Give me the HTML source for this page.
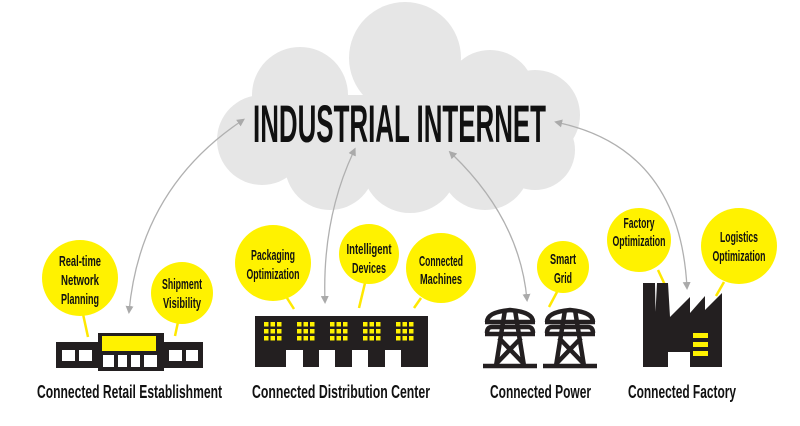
<!DOCTYPE html>
<html><head><meta charset="utf-8"><style>
html,body{margin:0;padding:0;background:#fff;}
svg{display:block;}
text{font-family:"Liberation Sans",sans-serif;font-weight:bold;fill:#111;}
</style></head><body>
<svg width="800" height="426" viewBox="0 0 800 426" xmlns="http://www.w3.org/2000/svg">
<defs>
<marker id="ah" markerWidth="8" markerHeight="8" refX="6" refY="4" orient="auto" markerUnits="userSpaceOnUse">
<path d="M0,0 L8,4 L0,8 Z" fill="#aaa"/></marker>
<marker id="as" markerWidth="8" markerHeight="8" refX="2" refY="4" orient="auto-start-reverse" markerUnits="userSpaceOnUse">
<path d="M0,0 L8,4 L0,8 Z" fill="#aaa"/></marker>
</defs>
<g fill="#e6e6e6">
<circle cx="405" cy="58" r="56"/>
<circle cx="300" cy="95" r="48"/>
<circle cx="490" cy="95" r="45"/>
<circle cx="535" cy="115" r="45"/>
<circle cx="262" cy="140" r="45"/>
<circle cx="330" cy="165" r="45"/>
<circle cx="410" cy="165" r="48"/>
<circle cx="485" cy="165" r="45"/>
<circle cx="535" cy="150" r="40"/>
<rect x="262" y="95" width="280" height="80"/>
</g>
<text x="253" y="142" font-size="53" textLength="293" lengthAdjust="spacingAndGlyphs">INDUSTRIAL INTERNET</text>
<g fill="none" stroke="#b0b0b0" stroke-width="1.3">
<path d="M240,122 Q140,190 129,312" marker-start="url(#as)" marker-end="url(#ah)"/>
<path d="M353,153 Q322,220 325,302" marker-start="url(#as)" marker-end="url(#ah)"/>
<path d="M453,155 Q520,220 527,300" marker-start="url(#as)" marker-end="url(#ah)"/>
<path d="M560,123 Q680,150 687,288" marker-start="url(#as)" marker-end="url(#ah)"/>
</g>
<g stroke="#ffe800" stroke-width="2.5">
<line x1="83" y1="314" x2="88" y2="337"/>
<line x1="178" y1="322" x2="175" y2="336"/>
<line x1="287" y1="298" x2="294" y2="309"/>
<line x1="365" y1="283" x2="359" y2="308"/>
<line x1="421" y1="298" x2="414" y2="308"/>
<line x1="557" y1="292" x2="549" y2="307"/>
<line x1="658" y1="270" x2="665" y2="285"/>
<line x1="724" y1="282" x2="716" y2="296"/>
</g>
<g fill="#fff200">
<circle cx="80" cy="278" r="38"/>
<circle cx="182" cy="293" r="31"/>
<circle cx="273" cy="263" r="38"/>
<circle cx="369" cy="254" r="30"/>
<circle cx="441" cy="268" r="35"/>
<circle cx="563" cy="267" r="26"/>
<circle cx="639" cy="240" r="32"/>
<circle cx="739" cy="246" r="38"/>
</g>
<g font-size="15" text-anchor="middle">
<text x="80" y="266" textLength="42" lengthAdjust="spacingAndGlyphs">Real-time</text>
<text x="80" y="285" textLength="38" lengthAdjust="spacingAndGlyphs">Network</text>
<text x="80" y="304" textLength="38" lengthAdjust="spacingAndGlyphs">Planning</text>
<text x="182" y="289" textLength="40" lengthAdjust="spacingAndGlyphs">Shipment</text>
<text x="182" y="308" textLength="38" lengthAdjust="spacingAndGlyphs">Visibility</text>
<text x="273" y="260" textLength="44" lengthAdjust="spacingAndGlyphs">Packaging</text>
<text x="273" y="279" textLength="53" lengthAdjust="spacingAndGlyphs">Optimization</text>
<text x="369" y="254" textLength="45" lengthAdjust="spacingAndGlyphs">Intelligent</text>
<text x="369" y="273" textLength="34" lengthAdjust="spacingAndGlyphs">Devices</text>
<text x="441" y="266" textLength="44" lengthAdjust="spacingAndGlyphs">Connected</text>
<text x="441" y="284" textLength="42" lengthAdjust="spacingAndGlyphs">Machines</text>
<text x="563" y="264" textLength="26" lengthAdjust="spacingAndGlyphs">Smart</text>
<text x="563" y="283" textLength="18" lengthAdjust="spacingAndGlyphs">Grid</text>
<text x="639" y="228" textLength="31" lengthAdjust="spacingAndGlyphs">Factory</text>
<text x="639" y="246" textLength="53" lengthAdjust="spacingAndGlyphs">Optimization</text>
<text x="739" y="242" textLength="38" lengthAdjust="spacingAndGlyphs">Logistics</text>
<text x="739" y="261" textLength="53" lengthAdjust="spacingAndGlyphs">Optimization</text>
</g>
<g>
<rect x="56" y="342" width="147" height="26" fill="#231f20"/>
<rect x="98" y="333" width="66" height="38" fill="#231f20"/>
<rect x="102" y="336" width="54" height="15" fill="#fff200"/>
<g fill="#fff">
<rect x="62" y="350" width="13" height="11"/><rect x="79" y="350" width="13" height="11"/>
<rect x="103" y="355" width="11" height="12"/><rect x="118" y="355" width="9" height="12"/><rect x="131" y="355" width="9" height="12"/><rect x="144" y="355" width="13" height="12"/>
<rect x="169" y="350" width="13" height="11"/><rect x="186" y="350" width="12" height="11"/>
</g>
</g>
<g>
<rect x="255" y="316" width="173" height="51" fill="#231f20"/>
<g fill="#fff">
<rect x="286" y="350" width="17" height="17"/><rect x="319" y="350" width="16" height="17"/><rect x="352" y="350" width="16" height="17"/><rect x="385" y="350" width="16" height="17"/>
</g>
</g>
<g fill="#fff200">
<g id="win">
<rect x="264" y="322" width="4.5" height="4.5"/><rect x="270.5" y="322" width="4.5" height="4.5"/><rect x="277" y="322" width="4.5" height="4.5"/>
<rect x="264" y="329" width="4.5" height="4.5"/><rect x="270.5" y="329" width="4.5" height="4.5"/><rect x="277" y="329" width="4.5" height="4.5"/>
<rect x="264" y="336" width="4.5" height="4.5"/><rect x="270.5" y="336" width="4.5" height="4.5"/><rect x="277" y="336" width="4.5" height="4.5"/>
</g>
<use href="#win" x="33"/><use href="#win" x="66"/><use href="#win" x="99"/><use href="#win" x="132"/>
</g>
<g id="tw" fill="none" stroke="#231f20" stroke-width="4.5" stroke-linejoin="round">
<path d="M487,322 Q487,312 510,310 Q533,312 533,322"/>
<line x1="485" y1="322" x2="535" y2="322"/>
<path d="M487,333 Q487,327 492,327 L528,327 Q533,327 533,333"/>
<line x1="485" y1="334" x2="535" y2="334"/>
<line x1="505" y1="310" x2="496" y2="366"/>
<line x1="515" y1="310" x2="524" y2="366"/>
<line x1="499" y1="338" x2="524" y2="364"/>
<line x1="521" y1="338" x2="496" y2="364"/>
<line x1="483" y1="366" x2="537" y2="366"/>
</g>
<use href="#tw" x="60"/>
<path d="M643,367 L643,283 L655,283 L655.5,312 L657,283 L668,283 L670,317 L690,297 L690,313 L705,296 L705,310 L722,293 L722,367 L690,367 L690,352 L668,352 L668,367 Z" fill="#231f20"/>
<g fill="#fff200">
<rect x="693" y="333" width="15" height="5"/><rect x="693" y="342" width="15" height="5"/><rect x="693" y="351" width="15" height="5"/>
</g>
<g font-size="18">
<text x="37" y="398" textLength="185" lengthAdjust="spacingAndGlyphs">Connected Retail Establishment</text>
<text x="252" y="398" textLength="178" lengthAdjust="spacingAndGlyphs">Connected Distribution Center</text>
<text x="490" y="398" textLength="101" lengthAdjust="spacingAndGlyphs">Connected Power</text>
<text x="628" y="398" textLength="108" lengthAdjust="spacingAndGlyphs">Connected Factory</text>
</g>
</svg>
</body></html>
